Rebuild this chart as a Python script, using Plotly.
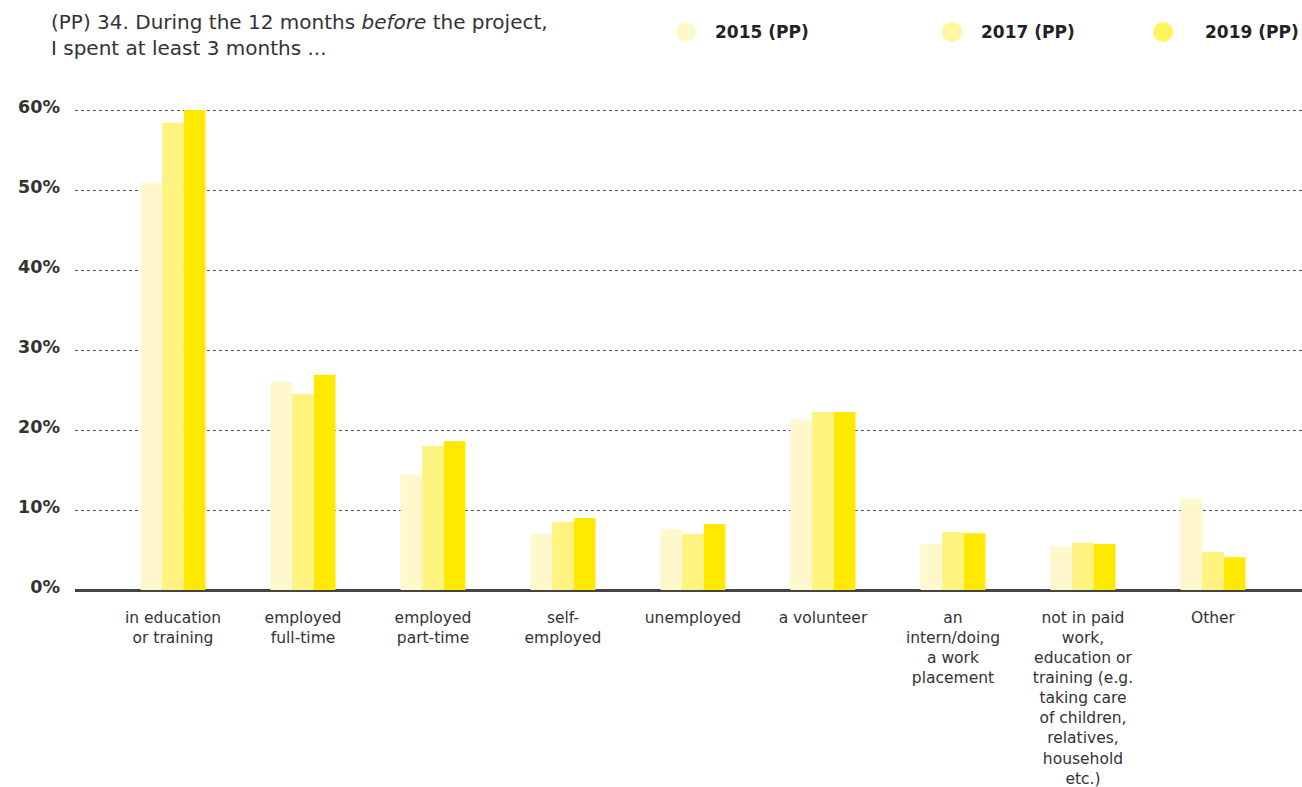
import plotly.graph_objects as go

categories = [
    "in education<br>or training",
    "employed<br>full-time",
    "employed<br>part-time",
    "self-<br>employed",
    "unemployed",
    "a volunteer",
    "an<br>intern/doing<br>a work<br>placement",
    "not in paid<br>work,<br>education or<br>training (e.g.<br>taking care<br>of children,<br>relatives,<br>household<br>etc.)",
    "Other",
]
series_names = ["2015 (PP)", "2017 (PP)", "2019 (PP)"]
v2015 = [50.9, 26.0, 14.4, 7.0, 7.6, 21.3, 5.75, 5.4, 11.4]
v2017 = [58.4, 24.5, 18.0, 8.5, 7.0, 22.25, 7.25, 5.9, 4.75]
v2019 = [60.0, 26.9, 18.6, 9.0, 8.25, 22.25, 7.1, 5.75, 4.1]
y_ticks = [0, 10, 20, 30, 40, 50, 60]
y_tick_labels = ["0%", "10%", "20%", "30%", "40%", "50%", "60%"]

colors = ["#fef8cc", "#fef280", "#ffe900"]
legend_colors = ["#fef9c9", "#fef6a0", "#fff35f"]

FONT = "DejaVu Sans"
TXT = "#333333"

fig = go.Figure()
for name, vals, col in zip(series_names, [v2015, v2017, v2019], colors):
    fig.add_trace(go.Bar(
        x=list(range(len(categories))), y=vals, name=name,
        marker=dict(color=col, line=dict(width=0)),
        showlegend=False,
        hovertemplate="%{y}%<extra>" + name + "</extra>",
    ))

W, H = 1302, 787
ml, mr, mt, mb = 75, 0, 102, 197

fig.update_layout(
    width=W, height=H,
    margin=dict(l=ml, r=mr, t=mt, b=mb, pad=0),
    paper_bgcolor="white", plot_bgcolor="white",
    barmode="group", bargap=0.5, bargroupgap=0,
    font=dict(family=FONT, color=TXT),
    xaxis=dict(
        range=[-0.754, 8.685],
        tickmode="array",
        tickvals=list(range(len(categories))),
        ticktext=categories,
        tickfont=dict(size=15.5, color=TXT, family=FONT),
        showgrid=False, zeroline=False, showline=False,
        ticks="", ticklabelstandoff=16, automargin=False,
    ),
    yaxis=dict(
        range=[0, 61],
        tickmode="array", tickvals=y_ticks, ticktext=y_tick_labels,
        tickfont=dict(size=17.5, color=TXT, family=FONT, weight="bold"),
        showgrid=True, gridcolor="#555555", gridwidth=1, griddash="dot",
        zeroline=True, zerolinecolor="#444444", zerolinewidth=3,
        showline=False, ticks="", ticklabelstandoff=14, automargin=False,
        ticklabelshift=-3,
    ),
)

pw, ph = W - ml - mr, H - mt - mb
def px_to_paper(x, y):
    return (x - ml) / pw, (H - mb - y) / ph

# Title
tx0, ty0 = px_to_paper(49, 8)
fig.add_annotation(
    xref="paper", yref="paper", x=tx0, y=ty0,
    xanchor="left", yanchor="top", align="left", showarrow=False,
    text="(PP) 34. During the 12 months <i>before</i> the project,<br>I spent at least 3 months ...",
    font=dict(size=20, color=TXT, family=FONT),
)

# Legend (circles + labels)
legend_circle_x = [686, 952, 1163]
legend_text_x = [713, 979, 1203]
legend_y = 32

for name, col, cx, tx in zip(series_names, legend_colors, legend_circle_x, legend_text_x):
    x0, y0 = px_to_paper(cx - 10, legend_y - 10)
    x1, y1 = px_to_paper(cx + 10, legend_y + 10)
    fig.add_shape(type="circle", xref="paper", yref="paper",
                  x0=x0, x1=x1, y0=y1, y1=y0, fillcolor=col, line=dict(width=0))
    ax, ay = px_to_paper(tx, legend_y)
    fig.add_annotation(xref="paper", yref="paper", x=ax, y=ay, xanchor="left", yanchor="middle",
                       showarrow=False, text="<b>" + name + "</b>",
                       font=dict(size=17, color="#222222", family=FONT))

fig.write_html("out.html")
